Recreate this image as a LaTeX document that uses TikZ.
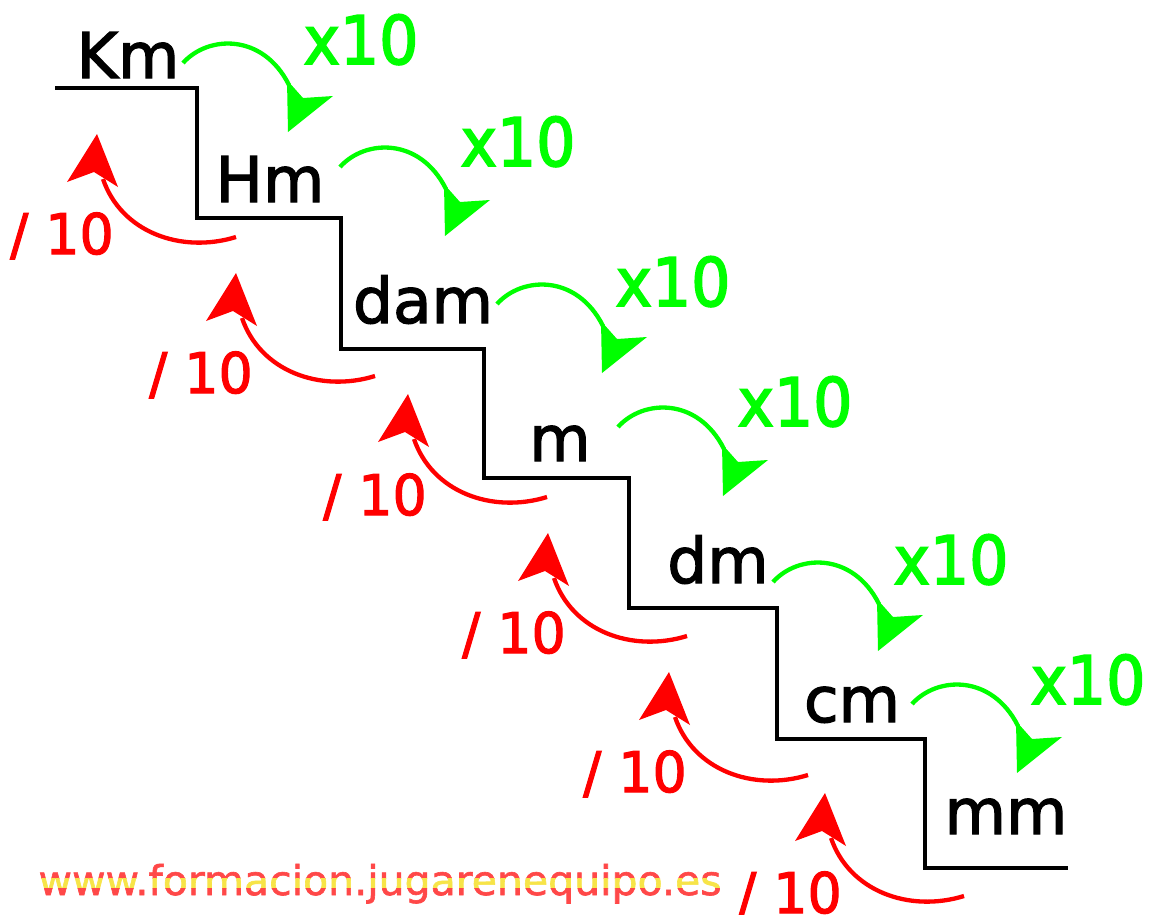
\documentclass[tikz,border=0pt]{standalone}
\usepackage{fontspec}
\setmainfont{DejaVu Sans}
\newfontfamily\unitfamily{DejaVu Sans}[FakeBold=2]
\newfontfamily\greenfamily{DejaVu Sans}[FakeStretch=0.92, FakeBold=2.5]
\newfontfamily\redfamily{DejaVu Sans}[FakeStretch=0.96, FakeBold=2]
\newfontfamily\wmfamily{DejaVu Sans}[FakeBold=1.5]
\definecolor{upgreen}{RGB}{0,255,0}
\definecolor{downred}{RGB}{255,0,0}
\definecolor{wmred}{RGB}{255,72,72}
\definecolor{wmyellow}{RGB}{247,228,72}
\tikzset{
  stair/.style={line width=4.3pt, line join=miter, draw=black},
  unitlabel/.style={font=\unitfamily\fontsize{63}{63}\selectfont, text=black, inner sep=0pt, anchor=base},
  timeslabel/.style={font=\greenfamily\fontsize{67}{67}\selectfont, text=upgreen, inner sep=0pt, anchor=base},
  divlabel/.style={font=\redfamily\fontsize{56}{56}\selectfont, text=downred, inner sep=0pt, anchor=base},
  wmlabel/.style={font=\wmfamily\fontsize{41}{41}\selectfont, inner sep=0pt, anchor=base},
  pics/mularrow/.style={code={
    \draw[upgreen, line width=4.3pt] (0,0) .. controls (25,-28) and (80,-30) .. (106,22);
    \fill[upgreen] (105,69) -- (150,33) -- (120,35) -- (104,17) -- cycle;
  }},
  pics/divarrow/.style={code={
    \draw[downred, line width=4.3pt] (0,0) .. controls (-55,17) and (-115,-5) .. (-133,-58);
    \fill[downred] (-139,-103) -- (-118,-50) -- (-142,-65) -- (-169,-55) -- cycle;
  }},
}
\begin{document}
\begin{tikzpicture}[x=1pt, y=-1pt]
\fill[white] (0,0) rectangle (1149,914);
\useasboundingbox (0,0) rectangle (1149,914);

% staircase
\draw[stair] (55,88) -- (197,88) -- (197,218) -- (341,218) -- (341,349) -- (484,349)
  -- (484,478) -- (629,478) -- (629,608) -- (777,608) -- (777,739) -- (925,739)
  -- (925,868) -- (1068,868);

% unit labels
\node[unitlabel] (km)  at (128,78)  {Km};
\node[unitlabel] (hm)  at (270,202) {Hm};
\node[unitlabel] (dam) at (423,323) {dam};
\node[unitlabel] (m)   at (560,461) {m};
\node[unitlabel] (dm)  at (718,583) {dm};
\node[unitlabel] (cm)  at (852,722) {cm};
\node[unitlabel] (mm)  at (1006,834) {mm};

% multiply arrows
\pic at (183,63)  {mularrow};
\pic at (340,167) {mularrow};
\pic at (497,304) {mularrow};
\pic at (618,427) {mularrow};
\pic at (773,582) {mularrow};
\pic at (912,704) {mularrow};

\node[timeslabel] (t1) at (361,64)  {x10};
\node[timeslabel] (t2) at (518,166) {x10};
\node[timeslabel] (t3) at (673,306) {x10};
\node[timeslabel] (t4) at (795,426) {x10};
\node[timeslabel] (t5) at (951,584) {x10};
\node[timeslabel] (t6) at (1088,704) {x10};

% divide arrows
\pic at (236,237) {divarrow};
\pic at (375,376) {divarrow};
\pic at (547,497) {divarrow};
\pic at (687,636) {divarrow};
\pic at (808,775) {divarrow};
\pic at (964,896) {divarrow};

\node[divlabel] (d1) at (62,254)  {/ 10};
\node[divlabel] (d2) at (201,393) {/ 10};
\node[divlabel] (d3) at (375,515) {/ 10};
\node[divlabel] (d4) at (514,653) {/ 10};
\node[divlabel] (d5) at (635,792) {/ 10};
\node[divlabel] (d6) at (790,913) {/ 10};

% watermark with flag stripes
\begin{scope}
  \clip (0,840) rectangle (760,878);
  \node[wmlabel, text=wmred] (wmtop) at (380,895) {www.formacion.jugarenequipo.es};
\end{scope}
\begin{scope}
  \clip (0,878) rectangle (760,888);
  \node[wmlabel, text=wmyellow] (wmmid) at (380,895) {www.formacion.jugarenequipo.es};
\end{scope}
\begin{scope}
  \clip (0,888) rectangle (760,914);
  \node[wmlabel, text=wmred] (wmbot) at (380,895) {www.formacion.jugarenequipo.es};
\end{scope}
\end{tikzpicture}
\end{document}
